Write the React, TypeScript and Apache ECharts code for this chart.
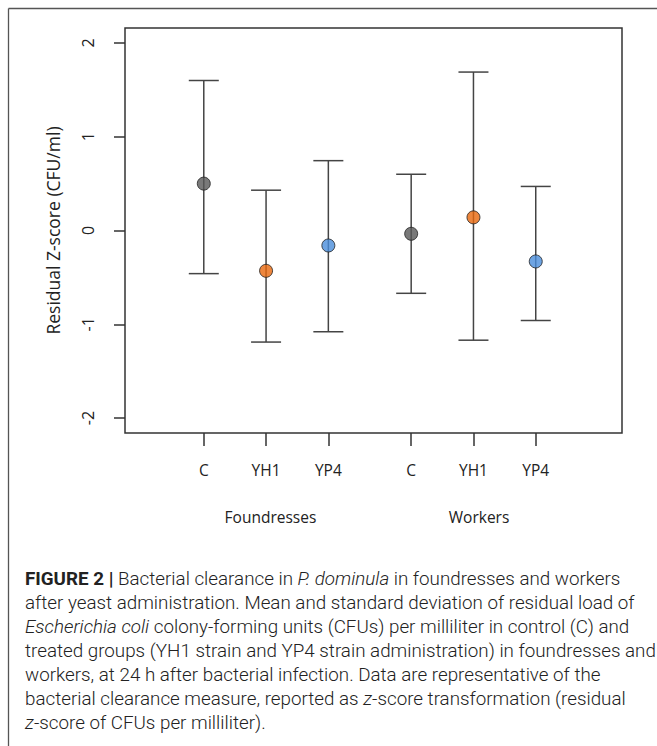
import React, { useEffect, useRef } from "react";
import * as echarts from "echarts";

const categories = ["C", "YH1", "YP4", "C", "YH1", "YP4"];
const xPositions = [1, 2, 3, 4.33, 5.33, 6.33];
const means = [0.5, -0.43, -0.16, -0.035, 0.14, -0.33];
const lowers = [-0.46, -1.19, -1.08, -0.67, -1.17, -0.96];
const uppers = [1.6, 0.43, 0.745, 0.6, 1.69, 0.47];
const pointColors = ["#575757", "#e8680c", "#4a8ddb", "#575757", "#e8680c", "#4a8ddb"];
const groups = ["Foundresses", "Workers"];
const groupPositions = [2.07, 5.42];
const yTicks = [-2, -1, 0, 1, 2];

const captionLines = [
  "{b|FIGURE 2 |} Bacterial clearance in {i|P. dominula} in foundresses and workers",
  "after yeast administration. Mean and standard deviation of residual load of",
  "{i|Escherichia coli} colony-forming units (CFUs) per milliliter in control (C) and",
  "treated groups (YH1 strain and YP4 strain administration) in foundresses and",
  "workers, at 24 h after bacterial infection. Data are representative of the",
  "bacterial clearance measure, reported as {i|z}-score transformation (residual",
  "{i|z}-score of CFUs per milliliter).",
];

const chartFont = "Open Sans";
const capFont = "Roboto";
const capSize = 18.8;

export default function App() {
  const ref = useRef<HTMLDivElement>(null);
  useEffect(() => {
    if (!ref.current) return;
    const chart = echarts.init(ref.current, null, { renderer: "svg" });
    const lineStyle = { stroke: "#444", lineWidth: 1.5 };
    const capRich = {
      b: { fontFamily: capFont, fontWeight: "bold", fontSize: capSize, fill: "#222" },
      i: { fontFamily: capFont, fontStyle: "italic", fontWeight: 300, fontSize: capSize, fill: "#222" },
    };
    chart.setOption({
      animation: false,
      backgroundColor: "#fff",
      grid: {
        left: 125,
        top: 28,
        width: 497,
        height: 405,
        show: true,
        borderColor: "#333",
        borderWidth: 1.5,
        backgroundColor: "transparent",
      },
      xAxis: [
        {
          type: "value",
          min: -0.265,
          max: 7.715,
          splitLine: { show: false },
          axisLine: { show: false, onZero: false },
          axisTick: { show: true, customValues: xPositions, length: 13, lineStyle: { color: "#333", width: 1.5 } },
          axisLabel: {
            customValues: xPositions,
            formatter: (v: number) => {
              const i = xPositions.findIndex((p) => Math.abs(p - v) < 1e-6);
              return i >= 0 ? categories[i] : "";
            },
            margin: 29,
            fontFamily: chartFont,
            fontSize: 15.5,
            color: "#222",
          },
        },
        {
          type: "value",
          position: "bottom",
          min: -0.265,
          max: 7.715,
          splitLine: { show: false },
          axisLine: { show: false, onZero: false },
          axisTick: { show: false },
          axisLabel: {
            customValues: groupPositions,
            formatter: (v: number) => {
              const i = groupPositions.findIndex((p) => Math.abs(p - v) < 1e-6);
              return i >= 0 ? groups[i] : "";
            },
            margin: 76,
            fontFamily: chartFont,
            fontSize: 15.5,
            color: "#222",
          },
        },
      ],
      yAxis: {
        type: "value",
        min: -2.16,
        max: 2.16,
        splitLine: { show: false },
        axisLine: { show: false, onZero: false },
        axisTick: { show: true, customValues: yTicks, length: 11, lineStyle: { color: "#333", width: 1.5 } },
        axisLabel: {
          customValues: yTicks,
          rotate: 90,
          margin: 29,
          fontFamily: chartFont,
          fontSize: 16,
          color: "#222",
        },
        name: "Residual Z-score (CFU/ml)",
        nameLocation: "middle",
        nameRotate: 90,
        nameGap: 63,
        nameTextStyle: { fontFamily: chartFont, fontSize: 17.5, color: "#222" },
      },
      series: [
        {
          type: "custom",
          xAxisIndex: 0,
          data: xPositions.map((x, i) => [x, lowers[i], uppers[i]]),
          renderItem: (params: any, api: any) => {
            const x = api.value(0);
            const pLo = api.coord([x, api.value(1)]);
            const pHi = api.coord([x, api.value(2)]);
            const hw = 15;
            return {
              type: "group",
              children: [
                { type: "line", shape: { x1: pHi[0], y1: pHi[1], x2: pLo[0], y2: pLo[1] }, style: lineStyle },
                { type: "line", shape: { x1: pHi[0] - hw, y1: pHi[1], x2: pHi[0] + hw, y2: pHi[1] }, style: lineStyle },
                { type: "line", shape: { x1: pLo[0] - hw, y1: pLo[1], x2: pLo[0] + hw, y2: pLo[1] }, style: lineStyle },
              ],
            };
          },
          z: 2,
        },
        {
          type: "scatter",
          xAxisIndex: 0,
          symbol: "circle",
          symbolSize: 13,
          z: 3,
          data: xPositions.map((x, i) => ({
            value: [x, means[i]],
            itemStyle: { color: pointColors[i], borderColor: "#222", borderWidth: 1 },
          })),
        },
      ],
      graphic: [
        { type: "line", shape: { x1: 8.5, y1: 8.5, x2: 657, y2: 8.5 }, style: { stroke: "#555", lineWidth: 1.3 } },
        { type: "line", shape: { x1: 8.5, y1: 8.5, x2: 8.5, y2: 746 }, style: { stroke: "#555", lineWidth: 1.3 } },
        ...captionLines.map((t, i) => ({
          type: "text",
          left: 25,
          top: 569 + i * 24,
          style: {
            text: t,
            fontFamily: capFont,
            fontWeight: 300,
            fontSize: capSize,
            fill: "#222",
            rich: capRich,
          },
        })),
      ],
    });
    return () => chart.dispose();
  }, []);
  return <div ref={ref} style={{ position: "fixed", left: 0, top: 0, width: 657, height: 746 }} />;
}
